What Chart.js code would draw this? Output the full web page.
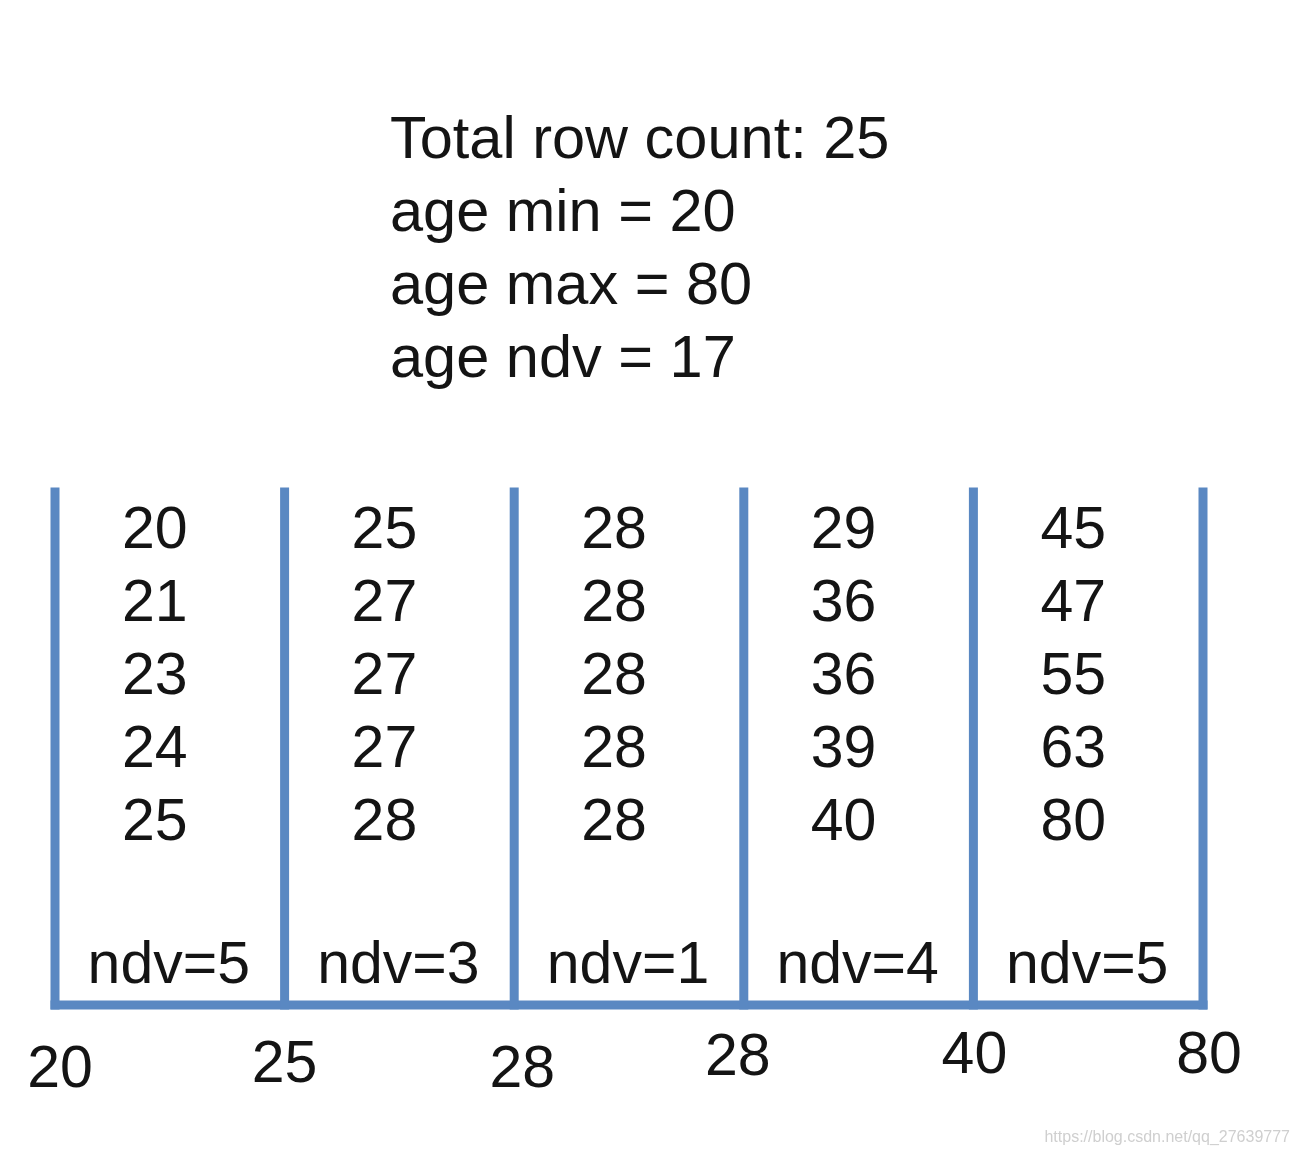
<!DOCTYPE html>
<html>
<head>
<meta charset="utf-8">
<script src="https://cdn.jsdelivr.net/npm/chart.js@4/dist/chart.umd.min.js"></script>
<style>
  html, body { margin: 0; padding: 0; background: #ffffff; }
  #wrap { position: relative; width: 1301px; height: 1154px; }
</style>
</head>
<body>
<div id="wrap"><canvas id="c"></canvas></div>
<script>
// ---- data ----
const headerLines = ["Total row count: 25", "age min = 20", "age max = 80", "age ndv = 17"];
const boundaryLabels = ["20", "25", "28", "28", "40", "80"];
const bucket1 = [20, 21, 23, 24, 25];
const bucket2 = [25, 27, 27, 27, 28];
const bucket3 = [28, 28, 28, 28, 28];
const bucket4 = [29, 36, 36, 39, 40];
const bucket5 = [45, 47, 55, 63, 80];
const buckets = [bucket1, bucket2, bucket3, bucket4, bucket5];
const ndvValues = [5, 3, 1, 4, 5];
const watermark = "https://blog.csdn.net/qq_27639777";

// ---- styles ----
const lineColor = '#5a88c2';
const textColor = '#141414';
const fontFamily = '"Liberation Sans", Arial, Helvetica, sans-serif';
// small hand-placed offsets of the boundary labels in the original picture (dx, baseline dy below chart bottom)
const boundaryLabelOffsets = [[5, 82], [0, 77], [8, 82], [-6, 70], [1, 68], [6, 68]];

const datasets = [];
boundaryLabels.forEach((lab, i) => {
  datasets.push({
    label: 'boundary ' + i,
    data: [{x: i, y: 0}, {x: i, y: 1}],
    borderColor: lineColor,
    borderWidth: 9,
    borderCapStyle: 'square',
    pointRadius: 0,
    showLine: true,
    clip: false
  });
});
datasets.push({
  label: 'base',
  data: [{x: 0, y: 0}, {x: boundaryLabels.length - 1, y: 0}],
  borderColor: lineColor,
  borderWidth: 9,
  borderCapStyle: 'square',
  pointRadius: 0,
  showLine: true,
  clip: false
});

const textPlugin = {
  id: 'textPlugin',
  afterDraw(chart) {
    const ctx = chart.ctx;
    const xs = chart.scales.x;
    const area = chart.chartArea;
    ctx.save();
    ctx.fillStyle = textColor;
    ctx.textBaseline = 'alphabetic';

    // header
    ctx.font = '59.5px ' + fontFamily;
    ctx.textAlign = 'left';
    headerLines.forEach((t, i) => {
      ctx.fillText(t, 390, 158 + i * 73);
    });

    // bucket values
    ctx.font = '59px ' + fontFamily;
    ctx.textAlign = 'center';
    buckets.forEach((vals, b) => {
      const cx = xs.getPixelForValue(b + 0.5) - 15;
      vals.forEach((v, r) => {
        ctx.fillText(String(v), cx, area.top + 56 + r * 73);
      });
    });

    // ndv labels
    ndvValues.forEach((n, b) => {
      const cx = xs.getPixelForValue(b + 0.5) - 1;
      ctx.fillText('ndv=' + n, cx, area.bottom - 22);
    });

    // boundary labels
    boundaryLabels.forEach((lab, i) => {
      const o = boundaryLabelOffsets[i];
      ctx.fillText(lab, xs.getPixelForValue(i) + o[0], area.bottom + o[1]);
    });

    // watermark
    ctx.font = '16px ' + fontFamily;
    ctx.fillStyle = '#cfcfcf';
    ctx.textAlign = 'right';
    ctx.fillText(watermark, 1290, 1142);
    ctx.restore();
  }
};

new Chart(document.getElementById('c'), {
  type: 'scatter',
  data: { datasets },
  options: {
    responsive: true,
    maintainAspectRatio: false,
    animation: false,
    layout: { padding: { left: 55, right: 98, top: 492, bottom: 149 } },
    plugins: { legend: { display: false }, tooltip: { enabled: false }, title: { display: false } },
    scales: {
      x: { type: 'linear', min: 0, max: boundaryLabels.length - 1, display: false },
      y: { type: 'linear', min: 0, max: 1, display: false }
    }
  },
  plugins: [textPlugin]
});
</script>
</body>
</html>
